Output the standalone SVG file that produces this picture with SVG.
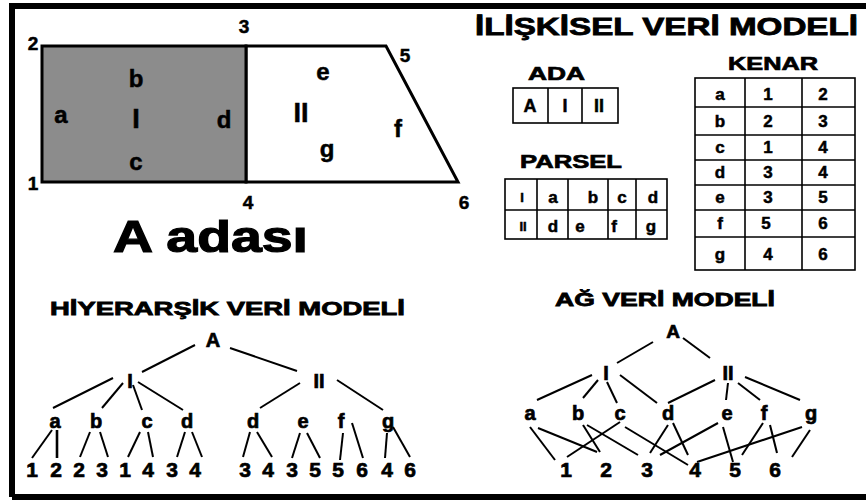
<svg xmlns="http://www.w3.org/2000/svg" width="866" height="502" viewBox="0 0 866 502">
<style>
text{font-family:"Liberation Sans",Arial,sans-serif;font-weight:bold;fill:#000;stroke:#000;stroke-width:0.5;text-anchor:middle}
.num{font-size:19px}
.lab{font-size:24px}
.ttl{font-size:22px;text-anchor:start;stroke-width:0.8}
.tab{font-size:19px;text-anchor:start;stroke-width:0.7}
.cell{font-size:17px}
.tn{font-size:20px;stroke-width:0.7}
.tnum{font-size:21px;stroke-width:0.7}
.cn line{stroke:#000;stroke-width:2}
.grid{fill:#fff;stroke:#000;stroke-width:1.6}
</style>
<rect x="0" y="0" width="866" height="502" fill="#fff"/>
<path d="M12 497 V6 H870 M12 497 H870" fill="none" stroke="#000" stroke-width="6"/>
<!-- parcel drawing -->
<g id="parcel-map">
<polygon points="246,46 386,46 458,182 246,182" fill="#fff" stroke="#000" stroke-width="3"/>
<rect x="42" y="46" width="204" height="136" fill="#8c8c8c" stroke="#000" stroke-width="3"/>
<text class="num" x="33" y="50">2</text>
<text class="num" x="244" y="33">3</text>
<text class="num" x="405" y="62">5</text>
<text class="num" x="33" y="190">1</text>
<text class="num" x="248" y="209">4</text>
<text class="num" x="464" y="209">6</text>
<text class="lab" x="61" y="123">a</text>
<text class="lab" x="136" y="87">b</text>
<text class="lab" x="136" y="128" style="font-size:27px">I</text>
<text class="lab" x="136" y="170">c</text>
<text class="lab" x="224" y="128">d</text>
<text class="lab" x="323" y="80">e</text>
<text class="lab" x="301" y="122" style="font-size:27px">II</text>
<text class="lab" x="327" y="157">g</text>
<text class="lab" x="398" y="137">f</text>
<text x="113" y="252" style="font-size:45px;text-anchor:start;stroke-width:1.2" textLength="195" lengthAdjust="spacingAndGlyphs">A adası</text>
</g>
<!-- relational model -->
<g id="relational-title">
<text class="ttl" x="475" y="35" style="font-size:24px" textLength="383" lengthAdjust="spacingAndGlyphs">İLİŞKİSEL VERİ MODELİ</text>
</g>
<g id="ada-table">
<text class="tab" x="528" y="80" textLength="57" lengthAdjust="spacingAndGlyphs">ADA</text>
<rect class="grid" x="513" y="88" width="105" height="35"/>
<line x1="548" y1="88" x2="548" y2="123" stroke="#000" stroke-width="1.6"/>
<line x1="582" y1="88" x2="582" y2="123" stroke="#000" stroke-width="1.6"/>
<text class="cell" x="530" y="112" style="font-size:18px">A</text>
<text class="cell" x="565" y="112" style="font-size:18px">I</text>
<text class="cell" x="599" y="112" style="font-size:18px">II</text>
</g>
<g id="parsel-table">
<text class="tab" x="520" y="168" textLength="102" lengthAdjust="spacingAndGlyphs">PARSEL</text>
<rect class="grid" x="505" y="179" width="162" height="60"/>
<g stroke="#000" stroke-width="1.6">
<line x1="505" y1="210" x2="667" y2="210"/>
<line x1="537" y1="179" x2="537" y2="239"/>
<line x1="568" y1="179" x2="568" y2="239"/>
<line x1="608" y1="179" x2="608" y2="239"/>
<line x1="636" y1="179" x2="636" y2="239"/>
</g>
<text class="cell" x="522" y="202" style="font-size:13px">I</text>
<text class="cell" x="553" y="203">a</text>
<text class="cell" x="593" y="203">b</text>
<text class="cell" x="622" y="203">c</text>
<text class="cell" x="653" y="203">d</text>
<text class="cell" x="523" y="231" style="font-size:13px">II</text>
<text class="cell" x="553" y="232">d</text>
<text class="cell" x="580" y="232">e</text>
<text class="cell" x="614" y="232">f</text>
<text class="cell" x="651" y="232">g</text>
</g>
<g id="kenar-table">
<text class="tab" x="728" y="70" textLength="90" lengthAdjust="spacingAndGlyphs">KENAR</text>
<rect class="grid" x="695" y="78" width="160" height="192"/>
<g stroke="#000" stroke-width="1.6">
<line x1="745" y1="78" x2="745" y2="270"/>
<line x1="802" y1="78" x2="802" y2="270"/>
<line x1="695" y1="107" x2="855" y2="107"/>
<line x1="695" y1="135" x2="855" y2="135"/>
<line x1="695" y1="160" x2="855" y2="160"/>
<line x1="695" y1="185" x2="855" y2="185"/>
<line x1="695" y1="210" x2="855" y2="210"/>
<line x1="695" y1="237" x2="855" y2="237"/>
</g>
<text class="cell" x="720" y="100">a</text><text class="cell" x="768" y="100">1</text><text class="cell" x="823" y="100">2</text>
<text class="cell" x="720" y="127">b</text><text class="cell" x="768" y="127">2</text><text class="cell" x="823" y="127">3</text>
<text class="cell" x="720" y="153">c</text><text class="cell" x="768" y="153">1</text><text class="cell" x="823" y="153">4</text>
<text class="cell" x="720" y="178">d</text><text class="cell" x="768" y="178">3</text><text class="cell" x="823" y="178">4</text>
<text class="cell" x="720" y="203">e</text><text class="cell" x="768" y="203">3</text><text class="cell" x="823" y="203">5</text>
<text class="cell" x="720" y="229">f</text><text class="cell" x="766" y="229">5</text><text class="cell" x="823" y="229">6</text>
<text class="cell" x="720" y="260">g</text><text class="cell" x="768" y="260">4</text><text class="cell" x="823" y="260">6</text>
</g>
<!-- hierarchical model -->
<g id="hier-title"><text class="ttl" x="50" y="315" style="font-size:19px" textLength="355" lengthAdjust="spacingAndGlyphs">HİYERARŞİK VERİ MODELİ</text></g>
<g id="h-A"><text class="tn" x="213" y="347">A</text></g>
<g id="h-I"><text class="tn" x="130" y="388">I</text></g>
<g id="h-II"><text class="tn" x="319" y="388">II</text></g>
<g id="h-a"><text class="tn" x="55" y="428">a</text></g>
<g id="h-b"><text class="tn" x="96" y="428">b</text></g>
<g id="h-c"><text class="tn" x="147" y="428">c</text></g>
<g id="h-d1"><text class="tn" x="187" y="428">d</text></g>
<g id="h-d2"><text class="tn" x="253" y="428">d</text></g>
<g id="h-e"><text class="tn" x="303" y="428">e</text></g>
<g id="h-f"><text class="tn" x="341" y="428">f</text></g>
<g id="h-g"><text class="tn" x="388" y="428">g</text></g>
<g id="h-leaves">
<text class="tnum" x="32" y="477">1</text><text class="tnum" x="56" y="477">2</text>
<text class="tnum" x="79" y="477">2</text><text class="tnum" x="102" y="477">3</text>
<text class="tnum" x="125" y="477">1</text><text class="tnum" x="148" y="477">4</text>
<text class="tnum" x="172" y="477">3</text><text class="tnum" x="195" y="477">4</text>
<text class="tnum" x="245" y="477">3</text><text class="tnum" x="268" y="477">4</text>
<text class="tnum" x="292" y="477">3</text><text class="tnum" x="315" y="477">5</text>
<text class="tnum" x="338" y="477">5</text><text class="tnum" x="362" y="477">6</text>
<text class="tnum" x="387" y="477">4</text><text class="tnum" x="410" y="477">6</text>
</g>
<!-- network model -->
<g id="net-title"><text class="ttl" x="555" y="306" style="font-size:19px" textLength="220" lengthAdjust="spacingAndGlyphs">AĞ VERİ MODELİ</text></g>
<g id="n-A"><text class="tn" x="673" y="338" style="font-size:19px">A</text></g>
<g id="n-I"><text class="tn" x="606" y="380">I</text></g>
<g id="n-II"><text class="tn" x="728" y="380">II</text></g>
<g id="n-a"><text class="tn" x="530" y="420">a</text></g>
<g id="n-b"><text class="tn" x="578" y="420">b</text></g>
<g id="n-c"><text class="tn" x="620" y="420">c</text></g>
<g id="n-d"><text class="tn" x="668" y="420">d</text></g>
<g id="n-e"><text class="tn" x="727" y="420">e</text></g>
<g id="n-f"><text class="tn" x="764" y="420">f</text></g>
<g id="n-g"><text class="tn" x="811" y="420">g</text></g>
<g id="n-1"><text class="tnum" x="566" y="477">1</text></g>
<g id="n-2"><text class="tnum" x="606" y="477">2</text></g>
<g id="n-3"><text class="tnum" x="647" y="477">3</text></g>
<g id="n-4"><text class="tnum" x="695" y="477">4</text></g>
<g id="n-5"><text class="tnum" x="735" y="477">5</text></g>
<g id="n-6"><text class="tnum" x="775" y="477">6</text></g>
<!-- connectors -->
<g id="connectors" class="cn">
<line x1="195" y1="345" x2="142" y2="372"/>
<line x1="230" y1="348" x2="297" y2="371"/>
<line x1="113" y1="378" x2="53" y2="408"/>
<line x1="123" y1="383" x2="102" y2="408"/>
<line x1="133" y1="385" x2="142" y2="410"/>
<line x1="138" y1="382" x2="183" y2="410"/>
<line x1="300" y1="383" x2="260" y2="408"/>
<line x1="337" y1="380" x2="383" y2="410"/>
<line x1="52" y1="430" x2="32" y2="458"/>
<line x1="57" y1="430" x2="57" y2="458" style="stroke-width:2.6"/>
<line x1="90" y1="432" x2="80" y2="457"/>
<line x1="100" y1="432" x2="108" y2="457"/>
<line x1="140" y1="432" x2="128" y2="457"/>
<line x1="148" y1="432" x2="153" y2="457"/>
<line x1="185" y1="432" x2="177" y2="457"/>
<line x1="192" y1="432" x2="202" y2="457"/>
<line x1="250" y1="432" x2="243" y2="457"/>
<line x1="257" y1="432" x2="272" y2="457"/>
<line x1="300" y1="433" x2="292" y2="458"/>
<line x1="307" y1="433" x2="320" y2="458"/>
<line x1="343" y1="433" x2="340" y2="460"/>
<line x1="352" y1="423" x2="363" y2="458"/>
<line x1="387" y1="433" x2="385" y2="458"/>
<line x1="393" y1="427" x2="410" y2="457"/>
<line x1="653" y1="342" x2="617" y2="363"/>
<line x1="683" y1="338" x2="710" y2="358"/>
<line x1="592" y1="375" x2="537" y2="400"/>
<line x1="598" y1="380" x2="583" y2="398"/>
<line x1="607" y1="382" x2="617" y2="403"/>
<line x1="620" y1="375" x2="657" y2="403"/>
<line x1="715" y1="380" x2="668" y2="403"/>
<line x1="728" y1="383" x2="726" y2="400"/>
<line x1="738" y1="383" x2="760" y2="400"/>
<line x1="745" y1="377" x2="800" y2="400"/>
<line x1="530" y1="427" x2="555" y2="460"/>
<line x1="538" y1="428" x2="597" y2="452"/>
<line x1="583" y1="425" x2="600" y2="452"/>
<line x1="587" y1="425" x2="638" y2="455"/>
<line x1="620" y1="422" x2="567" y2="457"/>
<line x1="625" y1="427" x2="688" y2="465"/>
<line x1="668" y1="425" x2="650" y2="453"/>
<line x1="673" y1="423" x2="688" y2="455"/>
<line x1="718" y1="423" x2="660" y2="455"/>
<line x1="723" y1="427" x2="733" y2="462"/>
<line x1="763" y1="423" x2="742" y2="455"/>
<line x1="770" y1="425" x2="777" y2="453"/>
<line x1="802" y1="427" x2="697" y2="462"/>
<line x1="810" y1="430" x2="792" y2="457"/>
</g>
</svg>
